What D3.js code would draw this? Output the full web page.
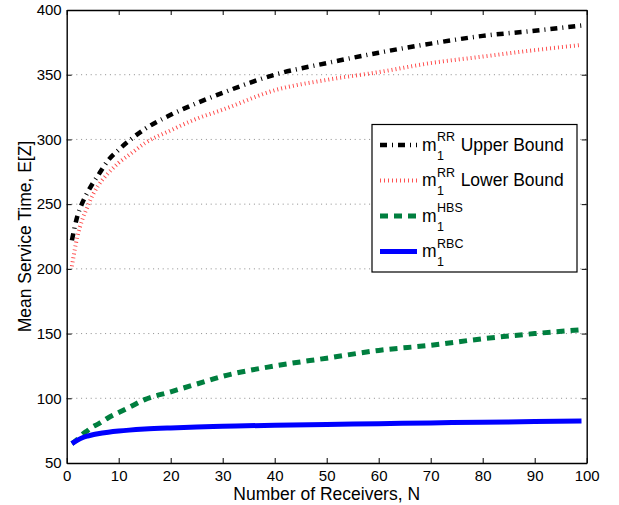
<!DOCTYPE html>
<html>
<head>
<meta charset="utf-8">
<script src="https://cdn.jsdelivr.net/npm/d3@7"></script>
<style>
  html, body { margin: 0; padding: 0; background: #fff; }
  svg text { font-family: "Liberation Sans", Arial, Helvetica, sans-serif; fill: #000; }
</style>
</head>
<body>
<svg id="chart" width="619" height="505"></svg>
<script>
// Number of receivers N
const receivers = [1, 2, 3, 4, 5, 6, 8, 10, 12, 15, 20, 25, 30, 40, 50, 60, 70, 80, 90, 99];
// Mean service time E[Z] for each scheme
const rrUpper = [222, 240, 251, 259, 266, 272, 284, 292, 299, 308, 319, 328, 336, 350, 359, 367, 374, 380, 384, 388];
const rrLower = [202, 224, 238, 248, 257, 264, 274, 282, 288, 297, 307, 316, 323, 338, 346, 352, 359, 364, 369, 373];
const hbs     = [65, 68, 72, 75, 78, 80, 85, 89, 93, 99, 105, 111, 117, 125, 131, 137, 141, 146, 150, 153];
const rbc     = [65, 67.5, 69.5, 70.8, 71.8, 72.6, 73.8, 74.7, 75.4, 76.2, 77.1, 77.8, 78.3, 79.2, 79.8, 80.4, 81, 81.5, 82, 82.4];

const xTicks = d3.range(0, 101, 10);
const yTicks = d3.range(50, 401, 50);

const svg = d3.select("#chart");
const plotLeft = 66.7, plotRight = 586.7, plotTop = 10, plotBottom = 463;

const x = d3.scaleLinear().domain([0, 100]).range([plotLeft, plotRight]);
const y = d3.scaleLinear().domain([50, 400]).range([plotBottom, plotTop]);

// horizontal dotted grid
svg.append("g")
  .selectAll("line")
  .data(yTicks.filter(v => v > 50 && v < 400))
  .join("line")
  .attr("x1", plotLeft).attr("x2", plotRight)
  .attr("y1", d => y(d)).attr("y2", d => y(d))
  .attr("stroke", "#8c8c8c")
  .attr("stroke-width", 1)
  .attr("stroke-dasharray", "1,3.8");

// series
const series = [
  { name: "Upper Bound", sup: "RR", values: rrUpper, color: "#000000", width: 4.5, dash: "7,5,1,5" },
  { name: "Lower Bound", sup: "RR", values: rrLower, color: "#ff4040", width: 4, dash: "0.9,3.1" },
  { name: "", sup: "HBS", values: hbs, color: "#007f3f", width: 5, dash: "8,6" },
  { name: "", sup: "RBC", values: rbc, color: "#0000ff", width: 5, dash: null }
];

const line = d3.line()
  .x((d, i) => x(receivers[i]))
  .y(d => y(d))
  .curve(d3.curveMonotoneX);

svg.append("g")
  .selectAll("path")
  .data(series)
  .join("path")
  .attr("d", d => line(d.values))
  .attr("fill", "none")
  .attr("stroke", d => d.color)
  .attr("stroke-width", d => d.width)
  .attr("stroke-dasharray", d => d.dash);

// axes box with inward ticks on all four sides
const axisG = svg.append("g");
const tickLen = 5;
const xAxisB = d3.axisBottom(x).tickValues(xTicks).tickSizeInner(-tickLen).tickSizeOuter(0);
const xAxisT = d3.axisTop(x).tickValues(xTicks).tickSizeInner(-tickLen).tickSizeOuter(0).tickFormat("");
const yAxisL = d3.axisLeft(y).tickValues(yTicks).tickSizeInner(-tickLen).tickSizeOuter(0);
const yAxisR = d3.axisRight(y).tickValues(yTicks).tickSizeInner(-tickLen).tickSizeOuter(0).tickFormat("");

const gB = axisG.append("g").attr("transform", `translate(0,${plotBottom})`).call(xAxisB);
const gT = axisG.append("g").attr("transform", `translate(0,${plotTop})`).call(xAxisT);
const gL = axisG.append("g").attr("transform", `translate(${plotLeft},0)`).call(yAxisL);
const gR = axisG.append("g").attr("transform", `translate(${plotRight},0)`).call(yAxisR);

[gB, gT, gL, gR].forEach(g => {
  g.select(".domain").attr("stroke", "#000").attr("stroke-width", 1.4);
  g.selectAll(".tick line").attr("stroke", "#000").attr("stroke-width", 1);
  g.selectAll(".tick text").attr("font-size", 15).attr("fill", "#000")
    .style("font-family", "'Liberation Sans', Arial, Helvetica, sans-serif");
});
// x labels: baseline just below the axis
gB.selectAll(".tick text").attr("dy", null).attr("y", 18);
gL.selectAll(".tick text").attr("x", -5);

// axis titles
svg.append("text")
  .attr("x", (plotLeft + plotRight) / 2).attr("y", 500)
  .attr("text-anchor", "middle").attr("font-size", 17.5)
  .text("Number of Receivers, N");

svg.append("text")
  .attr("transform", `translate(31,${(plotTop + plotBottom) / 2}) rotate(-90)`)
  .attr("text-anchor", "middle").attr("font-size", 17.5)
  .text("Mean Service Time, E[Z]");

// legend
const lg = svg.append("g");
const lgX = 372, lgY = 124.5, lgW = 205, lgH = 147.5;
lg.append("rect")
  .attr("x", lgX).attr("y", lgY).attr("width", lgW).attr("height", lgH)
  .attr("fill", "#fff").attr("stroke", "#000").attr("stroke-width", 1.2);

const rowY = [145, 180.5, 216, 251.5];
series.forEach((s, i) => {
  const cy = rowY[i];
  lg.append("line")
    .attr("x1", 380).attr("x2", 417)
    .attr("y1", cy).attr("y2", cy)
    .attr("stroke", s.color)
    .attr("stroke-width", s.width)
    .attr("stroke-dasharray", s.dash);
  const m = lg.append("text")
    .attr("x", 422).attr("y", cy + 5.5)
    .attr("font-size", 17.5)
    .text("m");
  const mw = m.node().getComputedTextLength();
  const sx = 422 + mw + 0.5;
  const sup = lg.append("text")
    .attr("x", sx).attr("y", cy - 4)
    .attr("font-size", 12.5)
    .text(s.sup);
  lg.append("text")
    .attr("x", sx).attr("y", cy + 14.5)
    .attr("font-size", 12.5)
    .text("1");
  if (s.name) {
    const sw = sup.node().getComputedTextLength();
    lg.append("text")
      .attr("x", sx + sw + 5.5).attr("y", cy + 5.5)
      .attr("font-size", 17.5)
      .text(s.name);
  }
});
</script>
</body>
</html>
